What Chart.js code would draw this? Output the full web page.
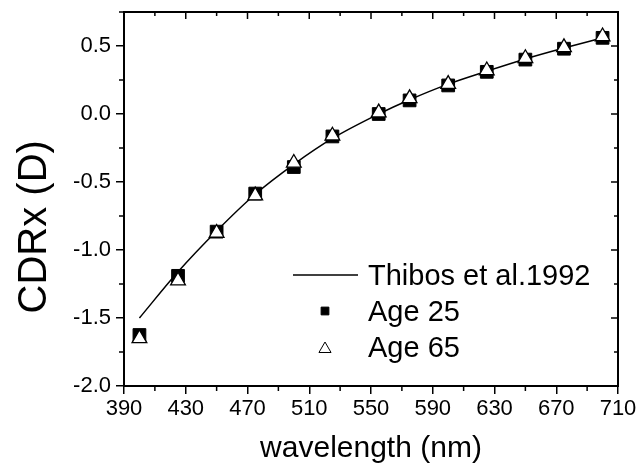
<!DOCTYPE html>
<html>
<head>
<meta charset="utf-8">
<style>
  html, body { margin: 0; padding: 0; background: #fff; }
  #wrap { width: 640px; height: 465px; }
</style>
</head>
<body>
<div id="wrap"><canvas id="cdr"></canvas></div>

<script src="https://cdn.jsdelivr.net/npm/chart.js"></script>
<script>
  // values
  const wavelength = [400, 425, 450, 475, 500, 525, 555, 575, 600, 625, 650, 675, 700];
  const thibos = [-1.50, -1.16, -0.86, -0.59, -0.37, -0.18, 0.00, 0.105, 0.22, 0.315, 0.405, 0.485, 0.56];
  const age25 = [-1.625, -1.19, -0.865, -0.585, -0.39, -0.165, 0.00, 0.10, 0.21, 0.31, 0.40, 0.48, 0.56];
  const age65 = [-1.65, -1.225, -0.875, -0.60, -0.36, -0.16, 0.01, 0.115, 0.22, 0.32, 0.41, 0.49, 0.57];

  const xTicks = [390, 430, 470, 510, 550, 590, 630, 670, 710];
  const yTicks = [-2.0, -1.5, -1.0, -0.5, 0.0, 0.5];

  const FONT = "'Liberation Sans', Arial, sans-serif";

  const pts = (ys) => wavelength.map((w, i) => ({ x: w, y: ys[i] }));

  // minor ticks sit halfway between the labelled ones
  function minors(ticks) {
    const out = [];
    for (let i = 0; i < ticks.length - 1; i++) out.push((ticks[i] + ticks[i + 1]) / 2);
    return out;
  }

  // closed frame with inward ticks on top/right, minor ticks everywhere
  const frame = {
    id: 'frame',
    afterDraw(chart) {
      const { ctx, chartArea: a, scales: { x, y } } = chart;
      ctx.save();
      ctx.strokeStyle = '#000';
      ctx.lineWidth = 2;
      ctx.strokeRect(a.left, a.top, a.right - a.left, a.bottom - a.top);

      ctx.lineWidth = 1.5;
      ctx.beginPath();
      xTicks.forEach(v => {
        const px = x.getPixelForValue(v);
        ctx.moveTo(px, a.top); ctx.lineTo(px, a.top + 7);
      });
      minors(xTicks).forEach(v => {
        const px = x.getPixelForValue(v);
        ctx.moveTo(px, a.top); ctx.lineTo(px, a.top + 4);
        ctx.moveTo(px, a.bottom); ctx.lineTo(px, a.bottom + 5);
      });
      yTicks.forEach(v => {
        const py = y.getPixelForValue(v);
        ctx.moveTo(a.right, py); ctx.lineTo(a.right - 7, py);
      });
      minors(yTicks).concat([0.75]).forEach(v => {
        const py = y.getPixelForValue(v);
        ctx.moveTo(a.right, py); ctx.lineTo(a.right - 4, py);
        ctx.moveTo(a.left, py); ctx.lineTo(a.left - 5, py);
      });
      ctx.stroke();

      // legend inside the plot
      const lx = a.left + 169, ly = a.top + 263, step = 36;
      const ds = chart.data.datasets;
      ctx.fillStyle = '#000';
      ctx.font = '29px ' + FONT;
      ctx.textBaseline = 'middle';
      ctx.textAlign = 'left';

      ctx.lineWidth = 1.5;
      ctx.beginPath();
      ctx.moveTo(lx, ly); ctx.lineTo(lx + 65, ly);
      ctx.stroke();
      ctx.fillText(ds[0].label, lx + 75, ly + 2);

      ctx.lineWidth = 1;
      Chart.helpers.drawPoint(ctx, { pointStyle: 'rect', radius: 5.5, borderWidth: 1 }, lx + 32, ly + step);
      ctx.fillStyle = '#000';
      ctx.fillText(ds[1].label, lx + 75, ly + step + 2);

      ctx.fillStyle = '#fff';
      Chart.helpers.drawPoint(ctx, { pointStyle: 'triangle', radius: 7, borderWidth: 1 }, lx + 32, ly + 2 * step + 2);
      ctx.fillStyle = '#000';
      ctx.fillText(ds[2].label, lx + 75, ly + 2 * step + 2);
      ctx.restore();
    }
  };

  new Chart(document.getElementById('cdr'), {
    type: 'line',
    data: {
      datasets: [
        {
          label: 'Thibos et al.1992',
          data: pts(thibos),
          borderColor: '#000',
          borderWidth: 1.5,
          pointRadius: 0,
          cubicInterpolationMode: 'monotone',
          fill: false,
          order: 2
        },
        {
          label: 'Age 25',
          data: pts(age25),
          showLine: false,
          pointStyle: 'rect',
          pointRadius: 9,
          pointBackgroundColor: '#000',
          pointBorderColor: '#000',
          pointBorderWidth: 1,
          order: 1
        },
        {
          label: 'Age 65',
          data: pts(age65),
          showLine: false,
          pointStyle: 'triangle',
          pointRadius: 8.5,
          pointBackgroundColor: '#fff',
          pointBorderColor: '#000',
          pointBorderWidth: 1.3,
          order: 0
        }
      ]
    },
    options: {
      responsive: true,
      maintainAspectRatio: false,
      animation: false,
      layout: { padding: { left: 0, right: 22, top: 12, bottom: 0 } },
      plugins: {
        legend: { display: false },
        tooltip: { enabled: false }
      },
      scales: {
        x: {
          type: 'linear',
          min: 390,
          max: 710,
          afterBuildTicks: s => { s.ticks = xTicks.map(v => ({ value: v })); },
          afterFit: s => { s.height = 79; },
          ticks: {
            color: '#000',
            font: { family: FONT, size: 22 },
            padding: 2,
            maxRotation: 0,
            callback: v => String(v)
          },
          grid: { drawOnChartArea: false, drawTicks: true, tickLength: 8, color: '#000', lineWidth: 1.5 },
          border: { display: true, color: '#000', width: 2 },
          title: {
            display: true,
            text: 'wavelength (nm)',
            color: '#000',
            font: { family: FONT, size: 30 },
            padding: { top: 0, bottom: -2 }
          }
        },
        y: {
          type: 'linear',
          min: -2,
          max: 0.75,
          afterBuildTicks: s => { s.ticks = yTicks.map(v => ({ value: v })); },
          afterFit: s => { s.width = 124; s.paddingTop = 0; s.paddingBottom = 0; },
          ticks: {
            color: '#000',
            font: { family: FONT, size: 22 },
            padding: 5,
            callback: v => v.toFixed(1)
          },
          grid: { drawOnChartArea: false, drawTicks: true, tickLength: 8, color: '#000', lineWidth: 1.5 },
          border: { display: true, color: '#000', width: 2 },
          title: {
            display: true,
            text: 'CDRx (D)\u00a0\u00a0\u00a0\u00a0\u00a0',
            color: '#000',
            font: { family: FONT, size: 40 },
            padding: { top: 11, bottom: 0 }
          }
        }
      }
    },
    plugins: [frame]
  });
</script>
</body>
</html>
